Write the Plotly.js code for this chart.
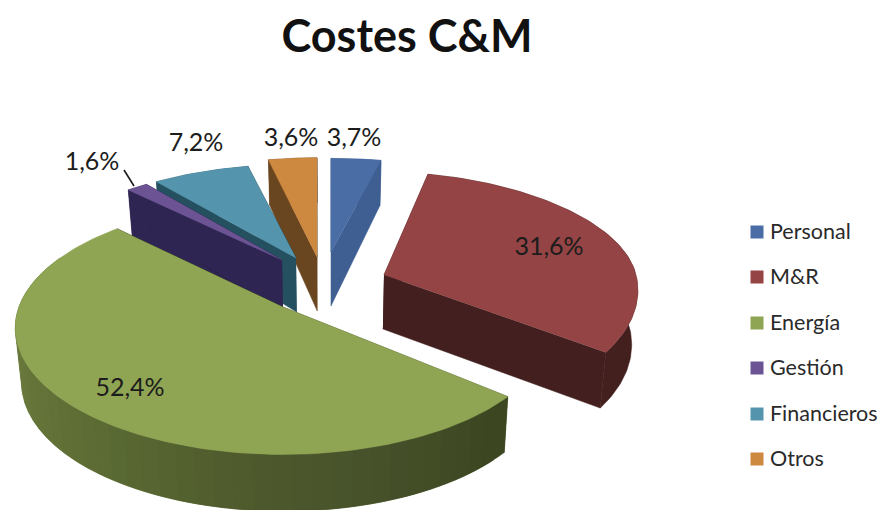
<!DOCTYPE html>
<html>
<head>
<meta charset="utf-8">
<script src="https://cdn.plot.ly/plotly-3.0.1.min.js"></script>
<style>html,body{margin:0;padding:0;background:#fff}#chart{width:880px;height:510px}</style>
</head>
<body>
<div id="chart"></div>
<script>
// --- data ---
var categories = ['Personal', 'M&R', 'Energía', 'Gestión', 'Financieros', 'Otros'];
var shares = [3.7, 31.6, 52.4, 1.6, 7.2, 3.6];
var chartTitle = 'Costes C&M';

// --- styles ---
var topColors  = ['#4a6da6', '#944444', '#8fa553', '#6c5494', '#5495ad', '#cd893f'];
var cutColors  = ['#3f5f93', '#43201f', '#3d4822', '#2e2552', '#24505f', '#694520'];
var wallColors = ['#3f5f93', '#431f1e', '#3d4822', '#2e2552', '#24505f', '#694520'];
var energyShade = ['#3c4721', '#46512a', '#4f5b2d', '#5a6a33', '#657539', '#6f7f42', '#7b8b4b'];

// --- exploded-pie projection for each slice: apex, radii, perspective ---
var apexX = [331, 384, 283, 282, 296, 317];
var apexY = [252, 275, 307, 260, 258, 257];
var radX  = [270, 252, 264, 258, 266, 270];
var radXFarCut = [0, 41, 0, 0, 0, 0];
var radYFarCut = [0, 11, 0, 0, 0, 0];
var radY  = [117, 126, 123, 116, 117, 124];
var persp = [0.25, 0.12, 0.166, 0.25, 0.25, 0.25];
var startTweakDeg = [0, 0, 3.6, 0, 0, 0];
var endTweakDeg   = [0, -2, 0, 0, 0, 0];
var DEPTH = 54, VANISH_X = 330, CONVERGE = 0.02;
var drawOrder = [5, 0, 4, 3, 1, 2];

// --- label and legend placement ---
var labelX = [354, 549, 130, 92, 196, 291];
var labelY = [140, 249, 390, 164, 145, 140];
var legendSwatchX = 757, legendTextX = 770;
var legendSwatchY = [232, 277, 323, 368, 414, 459];
var legendTextY = [234, 279, 325, 370, 416, 461];

function hexMix(a, b, t) {
  var pa = [1,3,5].map(function(i){return parseInt(a.substr(i,2),16);});
  var pb = [1,3,5].map(function(i){return parseInt(b.substr(i,2),16);});
  return 'rgb(' + pa.map(function(v,i){return Math.round(v+(pb[i]-v)*t);}).join(',') + ')';
}
function shade(stops, t) {
  var f = Math.max(0, Math.min(0.9999, t)) * (stops.length - 1), i = Math.floor(f);
  return hexMix(stops[i], stops[i+1], f - i);
}

var total = shares.reduce(function(a,b){return a+b;}, 0);
var starts = [], ends = [], run = 0;
shares.forEach(function(v, i){
  starts.push(run/total*2*Math.PI + startTweakDeg[i]*Math.PI/180);
  run += v;
  ends.push(run/total*2*Math.PI + endTweakDeg[i]*Math.PI/180);
});

function lowerPoint(x, y, c) {
  var f = c > 0 ? 0.17 : 0.05;
  return [x - (x - VANISH_X) * CONVERGE, y + DEPTH * (1 - f * c)];
}
function project(i, th, lower) {
  var c = Math.cos(th), s = 1 / (1 + persp[i] * c);
  var far2 = c > 0 ? c * c : 0;
  var r = radX[i] - radXFarCut[i] * far2;
  var k = radY[i] - radYFarCut[i] * far2;
  var x = apexX[i] + r * Math.sin(th) * s;
  var y = apexY[i] - k * c * s;
  return lower ? lowerPoint(x, y, c) : [x, y];
}
function apexPoint(i, lower) { return lower ? lowerPoint(apexX[i], apexY[i], 0) : [apexX[i], apexY[i]]; }
function poly(points, color) {
  return {
    type: 'scatter', mode: 'lines', fill: 'toself', fillcolor: color,
    x: points.map(function(p){return p[0];}), y: points.map(function(p){return p[1];}),
    line: {color: color, width: 0.5}, hoverinfo: 'skip', showlegend: false
  };
}
function arc(i, a, b, lower) {
  var pts = [], n = Math.max(2, Math.ceil((b - a) / 0.02));
  for (var k = 0; k <= n; k++) pts.push(project(i, a + (b - a) * k / n, lower));
  return pts;
}

var traces = [];
drawOrder.forEach(function(i) {
  var a = starts[i], b = ends[i];
  [a, b].forEach(function(th) {
    traces.push(poly([apexPoint(i,false), project(i,th,false), project(i,th,true), apexPoint(i,true)], cutColors[i]));
  });
  if (i === 2) {
    // banded wall shading, each band overlapped by the next so no seam shows
    var bands = 44, wallEnd = 1.62 * Math.PI;
    for (var k = bands - 1; k >= 0; k--) {
      var t0 = a + (wallEnd - a) * k / bands, t1 = a + (wallEnd - a) * (k + 2) / bands;
      traces.push(poly(arc(i,t0,t1,false).concat(arc(i,t0,t1,true).reverse()), shade(energyShade, k / (bands - 1))));
    }
  } else {
    traces.push(poly(arc(i,a,b,false).concat(arc(i,a,b,true).reverse()), wallColors[i]));
  }
  traces.push(poly([apexPoint(i,false)].concat(arc(i,a,b,false)), topColors[i]));
});

// value labels
traces.push({
  type: 'scatter', mode: 'text', x: labelX, y: labelY,
  text: shares.map(function(v){ return v.toFixed(1).replace('.', ',') + '%'; }),
  textposition: 'middle center',
  textfont: {family: 'Lato, sans-serif', size: 25, color: '#1c1c1c'},
  hoverinfo: 'skip', showlegend: false
});

// legend
categories.forEach(function(c, i) {
  traces.push({
    type: 'scatter', mode: 'markers', name: c, x: [legendSwatchX], y: [legendSwatchY[i]],
    marker: {symbol: 'square', size: 13, color: topColors[i]},
    hoverinfo: 'name', showlegend: false
  });
  traces.push({
    type: 'scatter', mode: 'text', x: [legendTextX], y: [legendTextY[i]], text: [c],
    textposition: 'middle right',
    textfont: {family: 'Lato, sans-serif', size: 21.5, color: '#2a2a2a'},
    hoverinfo: 'skip', showlegend: false
  });
});

var layout = {
  width: 880, height: 510,
  margin: {l: 0, r: 0, t: 0, b: 0},
  paper_bgcolor: '#ffffff', plot_bgcolor: '#ffffff',
  showlegend: false,
  title: {
    text: '<b>' + chartTitle.replace('&', '&amp;') + '</b>',
    font: {family: 'Lato, sans-serif', size: 45, color: '#111111'},
    x: 407 / 880, xanchor: 'center', xref: 'paper',
    y: 1 - 36 / 510, yanchor: 'middle', yref: 'container'
  },
  xaxis: {range: [0, 880], visible: false, fixedrange: true},
  yaxis: {range: [510, 0], visible: false, fixedrange: true},
  shapes: [{type: 'line', xref: 'x', yref: 'y', x0: 124, y0: 170, x1: 134, y1: 186, line: {color: '#1c1c1c', width: 1.6}}]
};
Plotly.newPlot('chart', traces, layout, {displayModeBar: false, staticPlot: true});
</script>
</body>
</html>
